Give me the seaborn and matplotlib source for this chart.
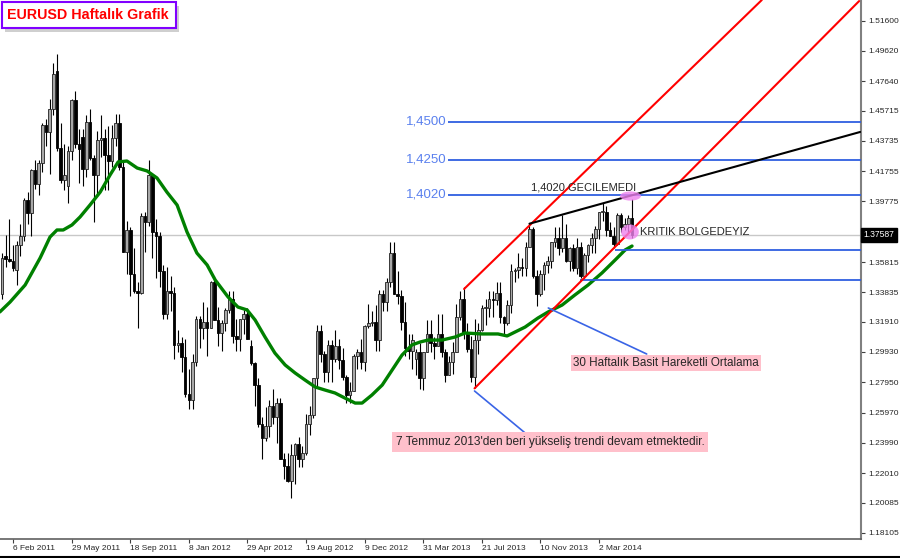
import numpy as np
import pandas as pd
import matplotlib
matplotlib.use('Agg')
import matplotlib.pyplot as plt
import matplotlib.dates as mdates
from matplotlib.patches import Ellipse, Rectangle
from matplotlib.lines import Line2D
import seaborn as sns

# weekly EURUSD candles, first one is the week of 16 Jan 2011
first_week = '2011-01-16'
opens = [1.3375, 1.3620, 1.3600, 1.3590, 1.3530, 1.3690, 1.3750, 1.3990, 1.3900, 1.4180,
         1.4090, 1.4230, 1.4480, 1.4430, 1.4580, 1.4830, 1.4330, 1.4120, 1.4080, 1.4310,
         1.4640, 1.4350, 1.4400, 1.4190, 1.4500, 1.4260, 1.4150, 1.4380, 1.4390, 1.4280,
         1.4240, 1.4390, 1.4490, 1.4200, 1.3650, 1.3790, 1.3500, 1.3390, 1.3380, 1.3880,
         1.3840, 1.4150, 1.3780, 1.3750, 1.3520, 1.3240, 1.3390, 1.3380, 1.3040, 1.3050,
         1.2960, 1.2720, 1.2680, 1.2930, 1.3210, 1.3150, 1.3190, 1.3150, 1.3450, 1.3200,
         1.3120, 1.3180, 1.3270, 1.3340, 1.3100, 1.3080, 1.3210, 1.3240, 1.3030, 1.2920,
         1.2780, 1.2520, 1.2430, 1.2510, 1.2640, 1.2570, 1.2660, 1.2290, 1.2250, 1.2150,
         1.2320, 1.2390, 1.2290, 1.2330, 1.2520, 1.2580, 1.2820, 1.3130, 1.2980, 1.2860,
         1.3040, 1.2950, 1.3030, 1.2940, 1.2830, 1.2710, 1.2740, 1.2970, 1.2990, 1.2930,
         1.3160, 1.3180, 1.3190, 1.3070, 1.3370, 1.3320, 1.3450, 1.3640, 1.3370, 1.3360,
         1.3190, 1.3020, 1.3000, 1.2950, 1.2990, 1.2820, 1.2990, 1.3110, 1.3050, 1.3030,
         1.3110, 1.2990, 1.2840, 1.2930, 1.2990, 1.3220, 1.3340, 1.3120, 1.3010, 1.2830,
         1.3070, 1.3140, 1.3280, 1.3280, 1.3340, 1.3330, 1.3380, 1.3220, 1.3180, 1.3300,
         1.3520, 1.3530, 1.3550, 1.3540, 1.3680, 1.3800, 1.3490, 1.3370, 1.3500, 1.3560,
         1.3590, 1.3710, 1.3740, 1.3670, 1.3740, 1.3590, 1.3670, 1.3540, 1.3680, 1.3490,
         1.3630, 1.3690, 1.3740, 1.3800, 1.3910, 1.3910, 1.3790, 1.3750, 1.3700, 1.3890,
         1.3810, 1.3830, 1.3870]
highs = [1.3640, 1.3760, 1.3860, 1.3690, 1.3720, 1.3830, 1.4000, 1.4040, 1.4190, 1.4250,
         1.4250, 1.4490, 1.4520, 1.4650, 1.4880, 1.4940, 1.4490, 1.4350, 1.4340, 1.4650,
         1.4700, 1.4450, 1.4450, 1.4540, 1.4580, 1.4280, 1.4440, 1.4540, 1.4450, 1.4470,
         1.4480, 1.4550, 1.4550, 1.4250, 1.3850, 1.3810, 1.3670, 1.3450, 1.3900, 1.3910,
         1.4250, 1.4160, 1.3860, 1.3780, 1.3560, 1.3550, 1.3490, 1.3420, 1.3140, 1.3090,
         1.3080, 1.2880, 1.2980, 1.3230, 1.3230, 1.3320, 1.3290, 1.3460, 1.3490, 1.3290,
         1.3200, 1.3280, 1.3390, 1.3390, 1.3210, 1.3210, 1.3270, 1.3280, 1.3070, 1.2930,
         1.2820, 1.2570, 1.2630, 1.2680, 1.2750, 1.2690, 1.2690, 1.2330, 1.2330, 1.2390,
         1.2400, 1.2440, 1.2380, 1.2590, 1.2640, 1.2820, 1.3170, 1.3170, 1.3000, 1.3070,
         1.3070, 1.3140, 1.3080, 1.3020, 1.2840, 1.2800, 1.2980, 1.3010, 1.3080, 1.3170,
         1.3310, 1.3260, 1.3300, 1.3400, 1.3400, 1.3480, 1.3710, 1.3710, 1.3520, 1.3400,
         1.3320, 1.3110, 1.3110, 1.3010, 1.3050, 1.2990, 1.3200, 1.3200, 1.3090, 1.3240,
         1.3240, 1.3010, 1.2970, 1.3060, 1.3310, 1.3390, 1.3420, 1.3180, 1.3100, 1.3210,
         1.3180, 1.3300, 1.3340, 1.3390, 1.3390, 1.3450, 1.3450, 1.3230, 1.3330, 1.3570,
         1.3540, 1.3640, 1.3610, 1.3710, 1.3830, 1.3810, 1.3530, 1.3530, 1.3580, 1.3620,
         1.3710, 1.3810, 1.3810, 1.3890, 1.3830, 1.3680, 1.3700, 1.3740, 1.3710, 1.3640,
         1.3700, 1.3770, 1.3820, 1.3910, 1.3965, 1.3950, 1.3840, 1.3810, 1.3900, 1.3905,
         1.3870, 1.3890, 1.3993]
lows = [1.3340, 1.3550, 1.3580, 1.3520, 1.3430, 1.3620, 1.3720, 1.3830, 1.3750, 1.4060,
        1.4020, 1.4170, 1.4340, 1.4160, 1.4540, 1.4310, 1.4100, 1.4050, 1.3970, 1.4250,
        1.4330, 1.4100, 1.4080, 1.4140, 1.4250, 1.3840, 1.4020, 1.4270, 1.4050, 1.4050,
        1.4200, 1.4340, 1.4180, 1.3650, 1.3500, 1.3360, 1.3380, 1.3150, 1.3370, 1.3650,
        1.3820, 1.3610, 1.3480, 1.3420, 1.3210, 1.3210, 1.3260, 1.2950, 1.2990, 1.2860,
        1.2700, 1.2620, 1.2620, 1.2900, 1.3020, 1.3080, 1.2970, 1.3150, 1.3200, 1.3030,
        1.3000, 1.3130, 1.3250, 1.3050, 1.3000, 1.3000, 1.3110, 1.3080, 1.2910, 1.2640,
        1.2500, 1.2290, 1.2410, 1.2440, 1.2520, 1.2400, 1.2290, 1.2160, 1.2140, 1.2040,
        1.2130, 1.2240, 1.2240, 1.2320, 1.2450, 1.2560, 1.2760, 1.2930, 1.2800, 1.2800,
        1.2800, 1.2930, 1.2880, 1.2810, 1.2660, 1.2660, 1.2740, 1.2880, 1.2880, 1.2870,
        1.3150, 1.3160, 1.3000, 1.3000, 1.3260, 1.3260, 1.3420, 1.3370, 1.3310, 1.3140,
        1.2970, 1.2950, 1.2880, 1.2840, 1.2750, 1.2745, 1.2990, 1.2990, 1.2950, 1.3030,
        1.2960, 1.2800, 1.2840, 1.2850, 1.2990, 1.3200, 1.3080, 1.2990, 1.2800, 1.2755,
        1.2980, 1.3130, 1.3170, 1.3220, 1.3220, 1.3300, 1.3180, 1.3100, 1.3170, 1.3250,
        1.3450, 1.3480, 1.3490, 1.3490, 1.3680, 1.3480, 1.3295, 1.3360, 1.3400, 1.3510,
        1.3540, 1.3680, 1.3630, 1.3650, 1.3580, 1.3520, 1.3520, 1.3500, 1.3480, 1.3470,
        1.3580, 1.3640, 1.3640, 1.3730, 1.3850, 1.3750, 1.3750, 1.3670, 1.3690, 1.3780,
        1.3790, 1.3770, 1.3740]
closes = [1.3610, 1.3600, 1.3590, 1.3540, 1.3690, 1.3750, 1.3985, 1.3905, 1.4180, 1.4090,
          1.4230, 1.4480, 1.4430, 1.4580, 1.4810, 1.4330, 1.4120, 1.4150, 1.4310, 1.4640,
          1.4350, 1.4320, 1.4190, 1.4500, 1.4260, 1.4150, 1.4380, 1.4390, 1.4280, 1.4240,
          1.4390, 1.4490, 1.4200, 1.3650, 1.3790, 1.3500, 1.3390, 1.3380, 1.3880, 1.3840,
          1.4150, 1.3780, 1.3750, 1.3520, 1.3240, 1.3390, 1.3380, 1.3040, 1.3050, 1.2960,
          1.2720, 1.2680, 1.2930, 1.3210, 1.3150, 1.3190, 1.3150, 1.3450, 1.3200, 1.3120,
          1.3180, 1.3270, 1.3340, 1.3100, 1.3080, 1.3210, 1.3240, 1.3080, 1.2920, 1.2780,
          1.2520, 1.2430, 1.2510, 1.2640, 1.2570, 1.2660, 1.2290, 1.2250, 1.2150, 1.2320,
          1.2390, 1.2290, 1.2330, 1.2520, 1.2580, 1.2820, 1.3130, 1.2980, 1.2860, 1.3040,
          1.2950, 1.3030, 1.2940, 1.2830, 1.2710, 1.2740, 1.2970, 1.2990, 1.2930, 1.3160,
          1.3180, 1.3190, 1.3070, 1.3370, 1.3320, 1.3450, 1.3640, 1.3370, 1.3360, 1.3190,
          1.3020, 1.3000, 1.3070, 1.2990, 1.2820, 1.2990, 1.3110, 1.3050, 1.3030, 1.3110,
          1.2990, 1.2840, 1.2930, 1.2990, 1.3220, 1.3340, 1.3120, 1.3010, 1.2830, 1.3070,
          1.3140, 1.3280, 1.3280, 1.3340, 1.3330, 1.3380, 1.3220, 1.3180, 1.3300, 1.3520,
          1.3530, 1.3550, 1.3540, 1.3680, 1.3800, 1.3490, 1.3370, 1.3500, 1.3560, 1.3590,
          1.3710, 1.3740, 1.3670, 1.3740, 1.3590, 1.3670, 1.3540, 1.3680, 1.3490, 1.3630,
          1.3690, 1.3740, 1.3800, 1.3910, 1.3910, 1.3790, 1.3750, 1.3700, 1.3890, 1.3810,
          1.3830, 1.3870, 1.37587]

# 30 week simple moving average (weeks after 6 Feb 2011)
ma_weeks = [-3.6, -0.8, 3.3, 7.4, 10.1, 12.0, 13.7, 16.1, 18.3, 21.0, 23.8, 26.5, 28.7,
            31.1, 33.9, 36.6, 39.3, 42.0, 44.8, 47.5, 50.2, 53.0, 55.2, 58.7, 61.4, 63.9,
            66.1, 68.8, 71.5, 74.3, 77.0, 79.7, 82.5, 85.2, 87.9, 90.6, 93.4, 95.3, 98.0,
            100.8, 103.5, 106.2, 108.9, 111.1, 113.3, 117.1, 120.7, 123.4, 128.1, 132.4,
            134.9, 137.1, 139.8, 143.3, 146.1, 149.9, 153.4, 157.0, 160.8, 164.4, 167.1, 169.0]
ma_values = [1.3255, 1.3320, 1.3431, 1.3608, 1.3745, 1.3791, 1.3791, 1.3824, 1.3876, 1.3954,
             1.4039, 1.4151, 1.4236, 1.4242, 1.4196, 1.4177, 1.4131, 1.4039, 1.3954, 1.3778,
             1.3640, 1.3562, 1.3464, 1.3353, 1.3287, 1.3268, 1.3202, 1.3091, 1.2986, 1.2908,
             1.2856, 1.2810, 1.2764, 1.2744, 1.2725, 1.2692, 1.2659, 1.2659, 1.2712, 1.2777,
             1.2875, 1.2973, 1.3039, 1.3058, 1.3071, 1.3071, 1.3091, 1.3117, 1.3111, 1.3111,
             1.3098, 1.3124, 1.3156, 1.3215, 1.3255, 1.3300, 1.3366, 1.3431, 1.3510, 1.3595,
             1.3660, 1.3686]

price_ticks = [1.51600, 1.49620, 1.47640, 1.45715, 1.43735, 1.41755, 1.39775, 1.37795,
               1.35815, 1.33835, 1.31910, 1.29930, 1.27950, 1.25970, 1.23990, 1.22010,
               1.20085, 1.18105]
date_ticks = ['2011-02-06', '2011-05-29', '2011-09-18', '2012-01-08', '2012-04-29',
              '2012-08-19', '2012-12-09', '2013-03-31', '2013-07-21', '2013-11-10', '2014-03-02']
date_labels = ['6 Feb 2011', '29 May 2011', '18 Sep 2011', '8 Jan 2012', '29 Apr 2012',
               '19 Aug 2012', '9 Dec 2012', '31 Mar 2013', '21 Jul 2013', '10 Nov 2013', '2 Mar 2014']

last_price = 1.37587
levels = [1.4500, 1.4250, 1.4020]
level_labels = ['1,4500', '1,4250', '1,4020']
support_levels = [1.3660, 1.3464]
support_starts = ['2014-04-01', '2014-01-24']

# trend lines drawn by the analyst: (date, price) pairs
red_upper = (['2013-06-17', '2015-01-07'], [1.3405, 1.5295])
red_lower = (['2013-07-07', '2015-07-12'], [1.2755, 1.5288])
black_line = (['2013-10-20', '2015-07-14'], [1.3832, 1.4432])
ma_pointer = (['2013-11-25', '2014-06-01'], [1.3281, 1.2980])
trend_pointer = (['2013-07-07', '2013-10-21'], [1.2738, 1.2437])

sns.set_style('white')
plt.rcParams['font.family'] = ['Liberation Sans', 'DejaVu Sans']

dates = pd.date_range(first_week, periods=len(opens), freq='7D')
x = mdates.date2num(dates)
o, h, l, c = map(np.array, (opens, highs, lows, closes))
up = c >= o

fig = plt.figure(figsize=(9, 5.58), dpi=100)
ax = fig.add_axes([0, 1 - 539 / 558, 861 / 900, 539 / 558])

start = pd.Timestamp('2011-02-06')
ax.set_xlim(mdates.date2num(start - pd.Timedelta(days=24.9)),
            mdates.date2num(start + pd.Timedelta(days=1620.6)))
ax.set_ylim(1.1770, 1.5295)

ax.axhline(last_price, color='#c8c8c8', lw=1, zorder=1)

# candles
ax.vlines(x, l, h, color='black', lw=0.8, zorder=2)
body = np.where(np.abs(c - o) < 0.0004, 0.0004, c - o)
ax.bar(x[up], body[up], bottom=o[up], width=5.0, color='#a8a8a8',
       edgecolor='#202020', linewidth=0.6, zorder=3)
ax.bar(x[~up], body[~up], bottom=o[~up], width=5.0, color='black',
       edgecolor='black', linewidth=0.6, zorder=3)

# moving average
ma_df = pd.DataFrame({'date': mdates.date2num(start + pd.to_timedelta(np.array(ma_weeks) * 7, unit='D')),
                      'ma': ma_values})
sns.lineplot(data=ma_df, x='date', y='ma', color='#008000', lw=2.4, ax=ax, zorder=4)

# horizontal levels
xmax = ax.get_xlim()[1]
lvl_start = mdates.date2num(pd.Timestamp('2013-05-17'))
for lv, lab in zip(levels, level_labels):
    ax.hlines(lv, lvl_start, xmax, color='#2f5fe0', lw=1.3, zorder=4)
    ax.text(lvl_start - 3, lv, lab, color='#5a80ee', fontsize=9.5, ha='right', va='center')
for lv, s in zip(support_levels, support_starts):
    ax.hlines(lv, mdates.date2num(pd.Timestamp(s)), xmax, color='#2f5fe0', lw=1.3, zorder=4)


def draw(line, **kw):
    xs = mdates.date2num(pd.to_datetime(line[0]))
    ax.plot(xs, line[1], **kw)


draw(red_upper, color='red', lw=1.5, zorder=5)
draw(red_lower, color='red', lw=1.5, zorder=5)
draw(black_line, color='black', lw=1.5, zorder=5)
draw(ma_pointer, color='#3a64e6', lw=1.2, zorder=5)
draw(trend_pointer, color='#3a64e6', lw=1.2, zorder=5)

# marked spots
for d, p, w, hh in [('2014-05-01', 1.4013, 40, 0.0060), ('2014-04-30', 1.3778, 34, 0.0098)]:
    ax.add_patch(Ellipse((mdates.date2num(pd.Timestamp(d)), p), w, hh,
                         facecolor='#ee82ee', alpha=0.8, edgecolor='none', zorder=6))

ax.text(mdates.date2num(pd.Timestamp('2013-10-23')), 1.4066, '1,4020 GECILEMEDI',
        fontsize=8, ha='left', va='center', zorder=7)
ax.text(mdates.date2num(pd.Timestamp('2014-05-19')), 1.3778, 'KRITIK BOLGEDEYIZ',
        fontsize=8, ha='left', va='center', zorder=7)
ax.text(mdates.date2num(pd.Timestamp('2014-01-11')), 1.2921, '30 Haftalık Basit Hareketli Ortalama',
        fontsize=8.4, ha='left', va='center', zorder=7,
        bbox=dict(boxstyle='square,pad=0.2', fc='#ffc0cb', ec='none'))
ax.text(mdates.date2num(pd.Timestamp('2013-02-07')), 1.2404,
        "7 Temmuz 2013'den beri yükseliş trendi devam etmektedir.",
        fontsize=8.6, ha='left', va='center', zorder=7,
        bbox=dict(boxstyle='square,pad=0.3', fc='#ffc0cb', ec='none'))

# axes styling
for s in ['left', 'top']:
    ax.spines[s].set_visible(False)
ax.spines['right'].set_color('#808080')
ax.spines['right'].set_linewidth(1.5)
ax.spines['bottom'].set_color('#606060')
ax.spines['bottom'].set_linewidth(1.2)

ax.yaxis.tick_right()
ax.set_yticks(price_ticks)
# the 1.37795 label sits under the current price box
ax.set_yticklabels(['' if abs(v - last_price) < 0.003 else f'{v:.5f}' for v in price_ticks])
ax.tick_params(axis='y', right=True, left=False, length=3, width=0.8, pad=2,
               labelsize=6, color='#404040')
ax.set_xticks(mdates.date2num(pd.to_datetime(date_ticks)))
ax.set_xticklabels(date_labels)
ax.tick_params(axis='x', bottom=True, length=3, width=0.8, pad=1.5, labelsize=6, color='#404040')
for lbl in ax.get_xticklabels():
    lbl.set_ha('left')
ax.set_xlabel('')
ax.set_ylabel('')

ax.text(1.003, last_price, '1.37587', transform=ax.get_yaxis_transform(), color='white',
        fontsize=6.2, ha='left', va='center', zorder=10, clip_on=False,
        bbox=dict(boxstyle='square,pad=0.25', fc='black', ec='black'))

# title box
fig.add_artist(Rectangle((5 / 900, 1 - 32 / 558), 174 / 900, 26 / 558, transform=fig.transFigure,
                         facecolor='#b0b0b0', edgecolor='none', alpha=0.6))
fig.add_artist(Rectangle((2 / 900, 1 - 28 / 558), 174 / 900, 26 / 558, transform=fig.transFigure,
                         facecolor='white', edgecolor='#8000ff', lw=1.5))
fig.text(7 / 900, 1 - 15 / 558, 'EURUSD Haftalık Grafik', color='red', fontsize=10.3,
         fontweight='bold', va='center', ha='left')

fig.add_artist(Line2D([0, 1], [1 - 556.5 / 558] * 2, color='black', lw=1.5))

fig.savefig('out.png', dpi=100)
